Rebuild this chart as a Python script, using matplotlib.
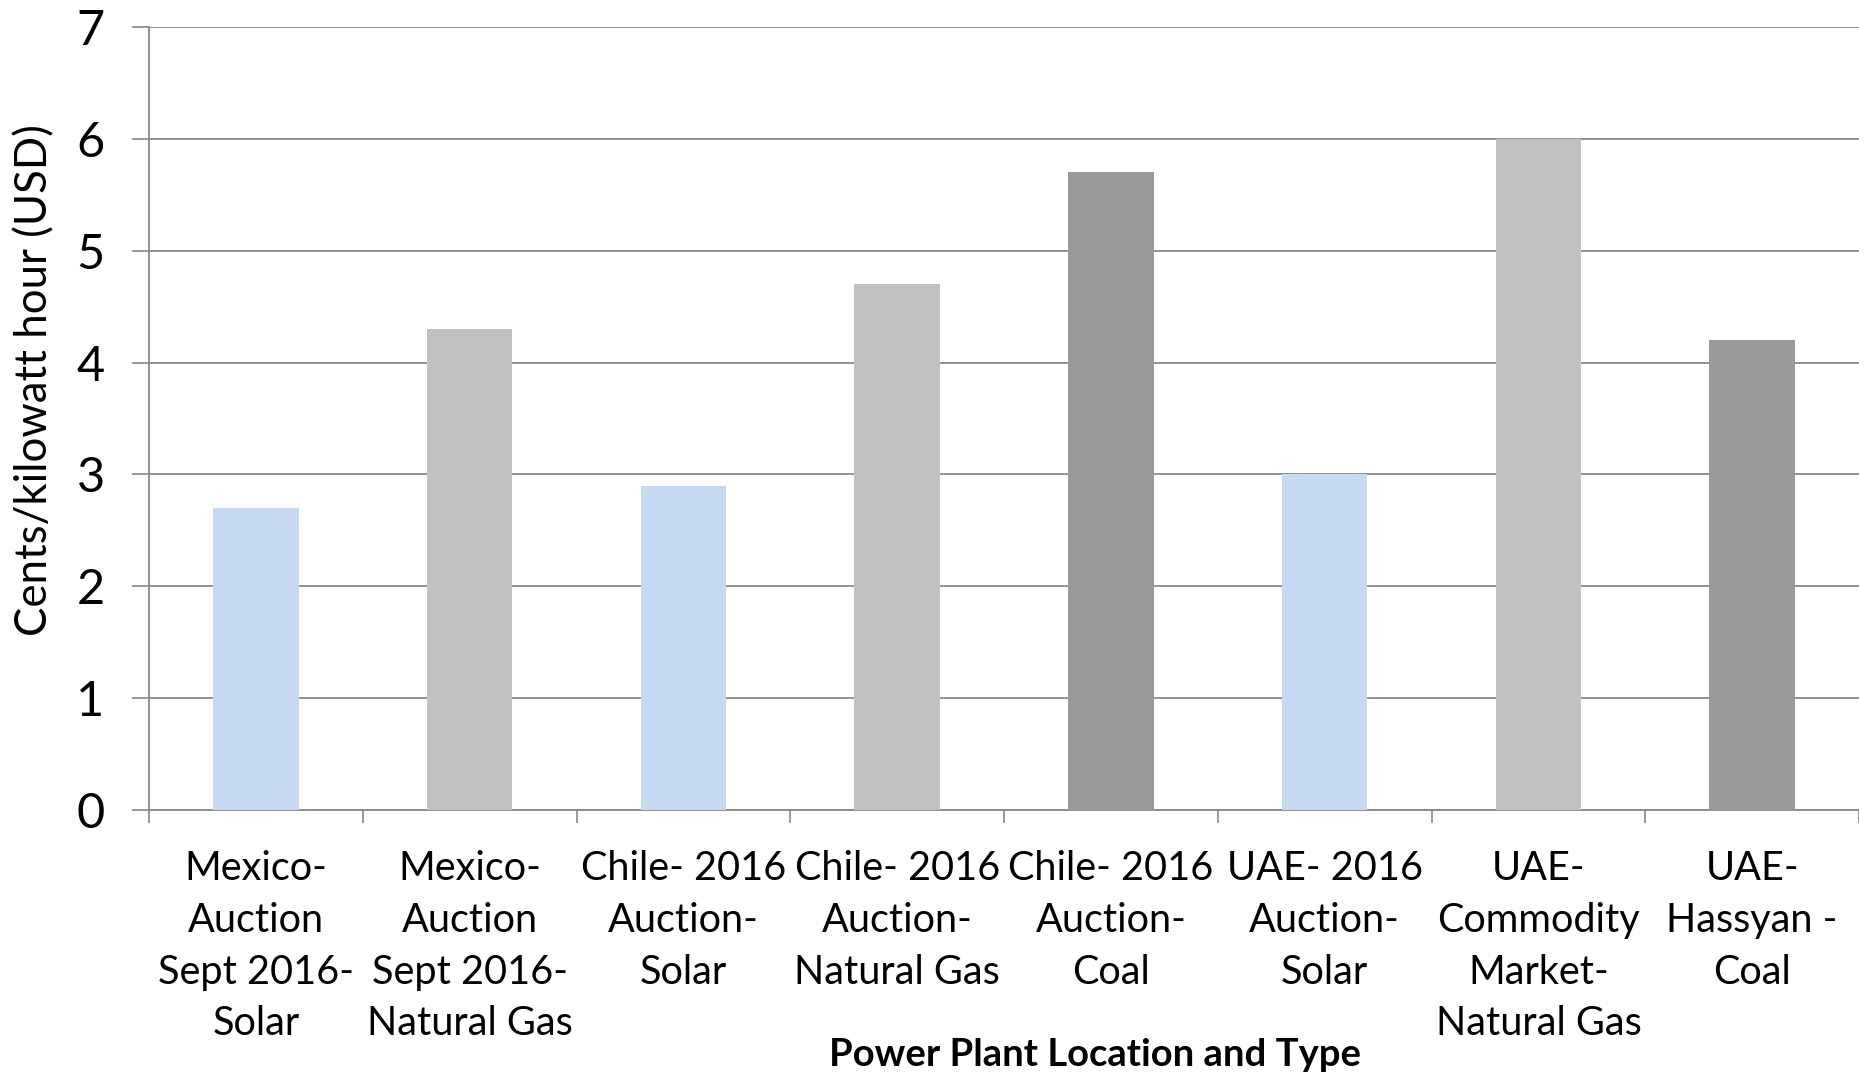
import matplotlib
matplotlib.use("Agg")
import matplotlib.pyplot as plt
import numpy as np

# Data
categories = [
    "Mexico-\nAuction\nSept 2016-\nSolar",
    "Mexico-\nAuction\nSept 2016-\nNatural Gas",
    "Chile- 2016\nAuction-\nSolar",
    "Chile- 2016\nAuction-\nNatural Gas",
    "Chile- 2016\nAuction-\nCoal",
    "UAE- 2016\nAuction-\nSolar",
    "UAE-\nCommodity\nMarket-\nNatural Gas",
    "UAE-\nHassyan -\nCoal",
]
plant_types = ["Solar", "Natural Gas", "Solar", "Natural Gas", "Coal", "Solar", "Natural Gas", "Coal"]
cents_per_kwh = [2.7, 4.3, 2.9, 4.7, 5.7, 3.0, 6.0, 4.2]
y_ticks = [0, 1, 2, 3, 4, 5, 6, 7]

type_colors = {"Solar": "#C6D9F1", "Natural Gas": "#C0C0C0", "Coal": "#999999"}
grid_color = "#888888"

plt.rcParams["font.family"] = ["Lato", "DejaVu Sans"]

fig = plt.figure(figsize=(18.59, 10.75), dpi=100)
ax = fig.add_axes([0.0802, 0.2465, 0.9198, 0.7284])

x = np.arange(len(categories))
ax.bar(x, cents_per_kwh, width=0.4, color=[type_colors[t] for t in plant_types], zorder=3)

ax.set_xlim(-0.5, len(categories) - 0.5)
ax.set_ylim(0, 7)
ax.set_yticks(y_ticks)
ax.tick_params(axis="y", labelsize=35, length=12, width=1.2, color=grid_color, pad=20)
ax.yaxis.grid(True, color=grid_color, linewidth=1.3, zorder=0)

# category labels sit between boundary ticks, Excel style
ax.set_xticks(x)
ax.set_xticklabels(categories, fontsize=28.5, linespacing=1.49)
ax.tick_params(axis="x", which="major", length=0, pad=29)
ax.set_xticks(np.arange(len(categories) + 1) - 0.5, minor=True)
ax.tick_params(axis="x", which="minor", length=9.5, width=1.2, color=grid_color)

for side in ["top", "right"]:
    ax.spines[side].set_visible(False)
for side in ["left", "bottom"]:
    ax.spines[side].set_color(grid_color)
    ax.spines[side].set_linewidth(1.3)

fig.text(0.019, 0.6465, "Cents/kilowatt hour (USD)", rotation=90, fontsize=31.5,
         ha="center", va="center")
fig.text(0.589, 0.0186, "Power Plant Location and Type", fontsize=27.5,
         fontweight="bold", ha="center", va="center")

fig.savefig("out.png", dpi=100)
plt.close(fig)
